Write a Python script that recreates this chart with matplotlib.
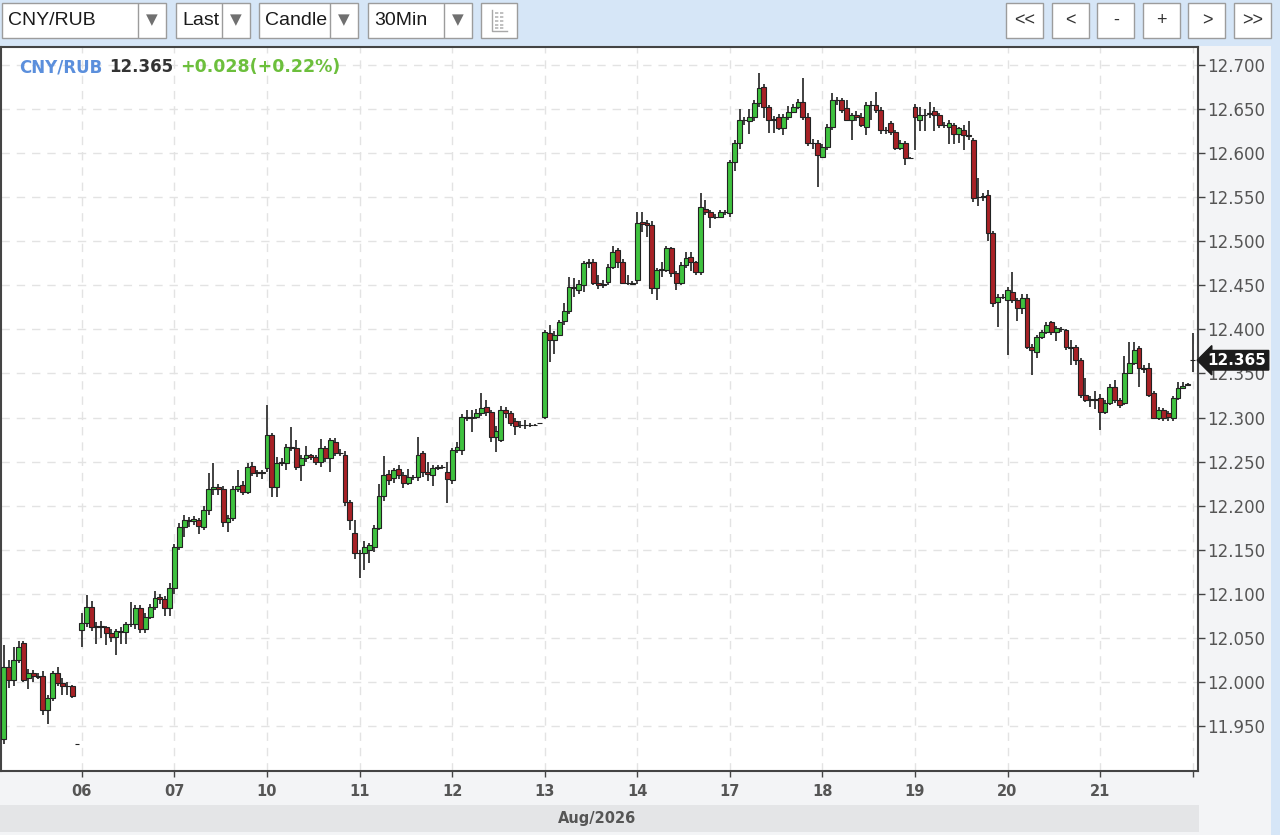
import matplotlib
matplotlib.use("Agg")
import matplotlib.pyplot as plt
import matplotlib.transforms as mtransforms
from matplotlib.patches import Rectangle
from matplotlib.lines import Line2D

# header values
symbol = "CNY/RUB"
last_price = "12.365"
change_text = "+0.028(+0.22%)"
month_label = "Aug/2026"
slots_per_day = 19
y_ticks = [11.95, 12.00, 12.05, 12.10, 12.15, 12.20, 12.25, 12.30, 12.35,
           12.40, 12.45, 12.50, 12.55, 12.60, 12.65, 12.70]

# 30 min candles per day: (open, high, low, close)
aug05 = [
    (11.935, 12.042, 11.930, 12.017), (12.017, 12.025, 11.993, 12.002),
    (12.002, 12.040, 11.995, 12.025), (12.025, 12.047, 12.022, 12.040),
    (12.044, 12.046, 12.000, 12.002), (12.004, 12.015, 11.992, 12.010),
    (12.010, 12.014, 12.000, 12.007), (12.007, 12.010, 12.003, 12.006),
    (12.007, 12.012, 11.962, 11.968), (11.968, 11.985, 11.952, 11.982),
    (11.982, 12.012, 11.978, 12.010), (12.010, 12.017, 11.995, 11.999),
    (11.999, 12.005, 11.985, 11.996), (11.996, 12.000, 11.985, 11.995),
    (11.995, 11.997, 11.982, 11.984), (11.930, 11.930, 11.930, 11.930),
]
aug06 = [
    (12.059, 12.078, 12.040, 12.067), (12.067, 12.099, 12.062, 12.085),
    (12.085, 12.092, 12.058, 12.062), (12.062, 12.068, 12.043, 12.063),
    (12.063, 12.069, 12.050, 12.062), (12.062, 12.063, 12.042, 12.056),
    (12.056, 12.060, 12.045, 12.051), (12.051, 12.060, 12.031, 12.058),
    (12.058, 12.062, 12.043, 12.057), (12.057, 12.068, 12.043, 12.066),
    (12.066, 12.091, 12.062, 12.066), (12.066, 12.087, 12.060, 12.084),
    (12.084, 12.087, 12.055, 12.060), (12.060, 12.078, 12.056, 12.074),
    (12.074, 12.088, 12.072, 12.085), (12.085, 12.103, 12.082, 12.095),
    (12.096, 12.100, 12.088, 12.094), (12.094, 12.097, 12.075, 12.084),
    (12.084, 12.112, 12.075, 12.107),
]
aug07 = [
    (12.107, 12.156, 12.100, 12.153), (12.153, 12.180, 12.150, 12.176),
    (12.176, 12.190, 12.165, 12.184), (12.184, 12.187, 12.176, 12.183),
    (12.183, 12.188, 12.178, 12.185), (12.184, 12.186, 12.168, 12.177),
    (12.176, 12.200, 12.172, 12.195), (12.195, 12.237, 12.190, 12.219),
    (12.219, 12.248, 12.212, 12.221), (12.221, 12.225, 12.212, 12.219),
    (12.219, 12.222, 12.176, 12.181), (12.181, 12.190, 12.170, 12.186),
    (12.186, 12.222, 12.183, 12.219), (12.219, 12.240, 12.215, 12.222),
    (12.224, 12.228, 12.212, 12.216), (12.216, 12.248, 12.213, 12.244),
    (12.245, 12.250, 12.234, 12.237), (12.237, 12.241, 12.232, 12.238),
    (12.238, 12.240, 12.230, 12.237),
]
aug10 = [
    (12.243, 12.314, 12.238, 12.280), (12.280, 12.283, 12.210, 12.221),
    (12.221, 12.255, 12.210, 12.248), (12.248, 12.254, 12.245, 12.250),
    (12.248, 12.270, 12.240, 12.267), (12.267, 12.289, 12.262, 12.266),
    (12.266, 12.275, 12.240, 12.244), (12.246, 12.258, 12.228, 12.254),
    (12.254, 12.268, 12.250, 12.257), (12.257, 12.259, 12.252, 12.255),
    (12.255, 12.257, 12.246, 12.250), (12.250, 12.276, 12.244, 12.266),
    (12.266, 12.268, 12.250, 12.254), (12.254, 12.277, 12.238, 12.275),
    (12.272, 12.277, 12.256, 12.260), (12.260, 12.264, 12.256, 12.260),
    (12.258, 12.262, 12.200, 12.204), (12.204, 12.206, 12.172, 12.184),
    (12.169, 12.184, 12.140, 12.146),
]
aug11 = [
    (12.146, 12.150, 12.118, 12.146), (12.146, 12.160, 12.127, 12.153),
    (12.150, 12.158, 12.135, 12.155), (12.153, 12.178, 12.148, 12.175),
    (12.175, 12.225, 12.172, 12.211), (12.211, 12.256, 12.205, 12.235),
    (12.236, 12.240, 12.224, 12.229), (12.231, 12.243, 12.226, 12.240),
    (12.242, 12.246, 12.230, 12.235), (12.235, 12.238, 12.220, 12.226),
    (12.226, 12.242, 12.224, 12.232), (12.232, 12.235, 12.229, 12.232),
    (12.232, 12.278, 12.228, 12.257), (12.260, 12.262, 12.232, 12.238),
    (12.238, 12.250, 12.228, 12.236), (12.235, 12.246, 12.222, 12.243),
    (12.243, 12.246, 12.240, 12.244), (12.244, 12.246, 12.242, 12.244),
    (12.238, 12.250, 12.203, 12.230),
]
aug12 = [
    (12.229, 12.266, 12.225, 12.263), (12.263, 12.272, 12.260, 12.267),
    (12.263, 12.304, 12.258, 12.301), (12.301, 12.309, 12.296, 12.300),
    (12.300, 12.308, 12.284, 12.301), (12.301, 12.310, 12.298, 12.305),
    (12.305, 12.328, 12.302, 12.311), (12.312, 12.320, 12.302, 12.306),
    (12.306, 12.308, 12.272, 12.278), (12.278, 12.290, 12.261, 12.285),
    (12.275, 12.313, 12.272, 12.309), (12.309, 12.312, 12.300, 12.305),
    (12.305, 12.307, 12.290, 12.294), (12.296, 12.300, 12.280, 12.290),
    (12.292, 12.296, 12.288, 12.292), (12.292, 12.297, 12.287, 12.291),
    (12.291, 12.294, 12.289, 12.292), (12.292, 12.293, 12.290, 12.291),
    (12.294, 12.294, 12.294, 12.294),
]
aug13 = [
    (12.301, 12.399, 12.298, 12.397), (12.396, 12.405, 12.363, 12.388),
    (12.388, 12.398, 12.372, 12.394), (12.394, 12.411, 12.392, 12.408),
    (12.410, 12.430, 12.405, 12.421), (12.421, 12.460, 12.418, 12.448),
    (12.448, 12.458, 12.437, 12.447), (12.445, 12.456, 12.440, 12.452),
    (12.450, 12.478, 12.443, 12.475), (12.475, 12.480, 12.470, 12.476),
    (12.477, 12.480, 12.450, 12.453), (12.453, 12.462, 12.446, 12.450),
    (12.450, 12.456, 12.447, 12.452), (12.454, 12.474, 12.450, 12.471),
    (12.471, 12.495, 12.468, 12.488), (12.490, 12.492, 12.470, 12.477),
    (12.477, 12.480, 12.451, 12.453), (12.453, 12.462, 12.450, 12.453),
    (12.453, 12.455, 12.450, 12.452),
]
aug14 = [
    (12.456, 12.533, 12.452, 12.521), (12.522, 12.533, 12.510, 12.520),
    (12.521, 12.524, 12.505, 12.518), (12.518, 12.523, 12.440, 12.447),
    (12.447, 12.470, 12.433, 12.467), (12.467, 12.476, 12.460, 12.468),
    (12.467, 12.495, 12.465, 12.492), (12.492, 12.494, 12.460, 12.464),
    (12.464, 12.466, 12.445, 12.453), (12.453, 12.476, 12.450, 12.473),
    (12.473, 12.488, 12.470, 12.481), (12.482, 12.488, 12.466, 12.476),
    (12.476, 12.478, 12.462, 12.465), (12.465, 12.555, 12.462, 12.539),
    (12.537, 12.547, 12.530, 12.533), (12.533, 12.536, 12.515, 12.528),
    (12.528, 12.531, 12.525, 12.528), (12.528, 12.535, 12.526, 12.533),
    (12.533, 12.536, 12.530, 12.533),
]
aug17 = [
    (12.532, 12.592, 12.528, 12.590), (12.590, 12.615, 12.580, 12.612),
    (12.612, 12.650, 12.605, 12.638), (12.638, 12.641, 12.632, 12.638),
    (12.636, 12.650, 12.622, 12.641), (12.641, 12.660, 12.636, 12.657),
    (12.657, 12.691, 12.652, 12.674), (12.675, 12.678, 12.640, 12.652),
    (12.652, 12.655, 12.623, 12.638), (12.638, 12.642, 12.623, 12.639),
    (12.641, 12.644, 12.626, 12.629), (12.629, 12.644, 12.620, 12.641),
    (12.641, 12.654, 12.638, 12.647), (12.647, 12.656, 12.645, 12.652),
    (12.652, 12.661, 12.650, 12.658), (12.658, 12.685, 12.638, 12.641),
    (12.641, 12.645, 12.608, 12.612), (12.612, 12.616, 12.605, 12.612),
    (12.612, 12.615, 12.562, 12.598),
]
aug18 = [
    (12.596, 12.610, 12.594, 12.607), (12.607, 12.633, 12.604, 12.630),
    (12.630, 12.668, 12.626, 12.660), (12.660, 12.664, 12.655, 12.660),
    (12.660, 12.663, 12.645, 12.649), (12.651, 12.660, 12.636, 12.638),
    (12.638, 12.646, 12.615, 12.643), (12.643, 12.648, 12.636, 12.641),
    (12.641, 12.645, 12.630, 12.632), (12.630, 12.658, 12.620, 12.655),
    (12.655, 12.659, 12.638, 12.655), (12.655, 12.669, 12.646, 12.649),
    (12.649, 12.652, 12.622, 12.626), (12.626, 12.630, 12.622, 12.626),
    (12.634, 12.637, 12.620, 12.624), (12.624, 12.626, 12.603, 12.606),
    (12.606, 12.615, 12.603, 12.612), (12.612, 12.614, 12.587, 12.595),
    (12.595, 12.596, 12.594, 12.595),
]
aug19 = [
    (12.652, 12.656, 12.604, 12.641), (12.638, 12.652, 12.625, 12.643),
    (12.643, 12.650, 12.625, 12.643), (12.644, 12.658, 12.640, 12.645),
    (12.648, 12.652, 12.625, 12.643), (12.643, 12.645, 12.628, 12.632),
    (12.632, 12.635, 12.628, 12.632), (12.630, 12.638, 12.610, 12.634),
    (12.632, 12.634, 12.610, 12.622), (12.622, 12.630, 12.612, 12.628),
    (12.626, 12.632, 12.604, 12.620), (12.620, 12.636, 12.615, 12.619),
    (12.615, 12.617, 12.545, 12.549), (12.550, 12.572, 12.540, 12.550),
    (12.550, 12.555, 12.546, 12.551), (12.553, 12.558, 12.500, 12.509),
    (12.509, 12.512, 12.425, 12.430), (12.431, 12.440, 12.403, 12.437),
    (12.437, 12.440, 12.434, 12.437),
]
aug20 = [
    (12.433, 12.448, 12.371, 12.445), (12.443, 12.465, 12.430, 12.433),
    (12.433, 12.436, 12.410, 12.424), (12.424, 12.440, 12.418, 12.436),
    (12.436, 12.440, 12.378, 12.380), (12.380, 12.383, 12.348, 12.377),
    (12.374, 12.394, 12.368, 12.391), (12.391, 12.399, 12.389, 12.397),
    (12.397, 12.408, 12.395, 12.405), (12.408, 12.410, 12.394, 12.397),
    (12.397, 12.404, 12.387, 12.402), (12.401, 12.403, 12.397, 12.400),
    (12.399, 12.400, 12.377, 12.380), (12.380, 12.388, 12.360, 12.379),
    (12.380, 12.382, 12.360, 12.365), (12.365, 12.367, 12.322, 12.326),
    (12.326, 12.345, 12.318, 12.320), (12.321, 12.324, 12.312, 12.320),
    (12.320, 12.330, 12.310, 12.321),
]
aug21 = [
    (12.322, 12.327, 12.286, 12.306), (12.306, 12.320, 12.304, 12.317),
    (12.317, 12.338, 12.314, 12.335), (12.335, 12.343, 12.317, 12.320),
    (12.320, 12.322, 12.311, 12.314), (12.317, 12.370, 12.314, 12.351),
    (12.351, 12.386, 12.349, 12.362), (12.362, 12.386, 12.360, 12.377),
    (12.379, 12.381, 12.335, 12.356), (12.356, 12.360, 12.350, 12.355),
    (12.356, 12.362, 12.323, 12.326), (12.328, 12.330, 12.298, 12.300),
    (12.300, 12.312, 12.297, 12.309), (12.309, 12.311, 12.296, 12.300),
    (12.305, 12.307, 12.296, 12.301), (12.300, 12.325, 12.296, 12.322),
    (12.322, 12.340, 12.320, 12.334), (12.334, 12.340, 12.332, 12.336),
    (12.337, 12.339, 12.336, 12.338),
]
aug24 = [(12.365, 12.396, 12.352, 12.365)]

day_labels = ["06", "07", "10", "11", "12", "13", "14", "17", "18", "19", "20", "21", ""]
days = [aug06, aug07, aug10, aug11, aug12, aug13, aug14, aug17, aug18, aug19, aug20, aug21, aug24]

W, H = 1280, 835
GREEN = "#3fc23f"
RED = "#a82126"


def fx(x):
    return x / W


def fy(y):
    return 1 - y / H


# build candle index, day 05 is the partial day before the first tick
xs, opens, highs, lows, closes = [], [], [], [], []
for i, c in enumerate(aug05):
    xs.append(i - len(aug05))
    opens.append(c[0]); highs.append(c[1]); lows.append(c[2]); closes.append(c[3])
day_starts = []
for d, day in enumerate(days):
    start = d * slots_per_day
    day_starts.append(start)
    for i, c in enumerate(day):
        xs.append(start + i)
        opens.append(c[0]); highs.append(c[1]); lows.append(c[2]); closes.append(c[3])

fig = plt.figure(figsize=(12.8, 8.35), dpi=100)
fig.patch.set_facecolor("#f3f4f6")

ax = fig.add_axes([fx(1), fy(771), fx(1198) - fx(1), (771 - 47) / H])
ax.set_facecolor("white")
ax.set_zorder(2)

# wicks and bodies
ax.vlines(xs, lows, highs, color="#333333", lw=1.3, zorder=2)
bottoms = [min(o, c) for o, c in zip(opens, closes)]
heights = [abs(c - o) for o, c in zip(opens, closes)]
fills = [GREEN if c >= o else RED for o, c in zip(opens, closes)]
ax.bar(xs, heights, bottom=bottoms, width=1.0, color=fills,
       edgecolor="#222222", linewidth=0.8, zorder=3)

ax.set_xlim(-16.6, 229.1)
ax.set_ylim(11.899, 12.7204)

ax.set_yticks(y_ticks)
ax.set_yticklabels([f"{v:.3f}" for v in y_ticks])
ax.yaxis.tick_right()
ax.set_xticks(day_starts)
ax.set_xticklabels(day_labels)

ax.tick_params(axis="y", which="both", length=5, width=1, color="#444444",
               labelsize=12, labelcolor="#555555", pad=1.5)
ax.tick_params(axis="x", length=4, width=1, color="#444444",
               labelsize=10.5, labelcolor="#555555", pad=5)
for lab in ax.get_xticklabels():
    lab.set_fontweight("bold")

ax.grid(True, color="#e3e3e3", linestyle=(0, (6, 5)), linewidth=1)
ax.set_axisbelow(True)
for s in ax.spines.values():
    s.set_color("#444444")
    s.set_linewidth(1.5)

# header in the chart
t1 = ax.text(0.015, 0.972, symbol, transform=ax.transAxes, color="#5b8fdc",
             fontsize=12, fontweight="bold", va="center", ha="left")
t2 = ax.annotate(last_price, xy=(1, 0.5), xycoords=t1, xytext=(5, 0),
                 textcoords="offset points", va="center", ha="left",
                 color="#333333", fontsize=12, fontweight="bold")
ax.annotate(change_text, xy=(1, 0.5), xycoords=t2, xytext=(5, 0),
            textcoords="offset points", va="center", ha="left",
            color="#6cbf3c", fontsize=12.5, fontweight="bold")

# last price marker on the axis
blend = mtransforms.blended_transform_factory(ax.transAxes, ax.transData)
ax.text(1.008, closes[-1], last_price, transform=blend, color="white",
        fontsize=11, fontweight="bold", va="center", ha="left", clip_on=False,
        zorder=5, bbox=dict(boxstyle="larrow,pad=0.15", fc="#1c1c1c", ec="#1c1c1c"))

# toolbar and bottom bands
fig.patches.append(Rectangle((0, fy(46)), 1, 46 / H, transform=fig.transFigure,
                             fc="#d6e6f7", ec="none", zorder=0))
fig.patches.append(Rectangle((fx(1271), 0), fx(9), 1, transform=fig.transFigure,
                             fc="#d6e6f7", ec="none", zorder=0))
fig.patches.append(Rectangle((0, fy(832)), fx(1199), 27 / H, transform=fig.transFigure,
                             fc="#e4e5e7", ec="none", zorder=0))
fig.text(fx(597), fy(818), month_label, ha="center", va="center",
         fontsize=10.5, fontweight="bold", color="#555555")


def box(x0, x1, y0=3, y1=38):
    fig.patches.append(Rectangle((fx(x0), fy(y1)), fx(x1) - fx(x0), (y1 - y0) / H,
                                 transform=fig.transFigure, fc="white",
                                 ec="#9c9c9c", lw=1, zorder=1))


dropdowns = [("CNY/RUB", 2, 166, 138), ("Last", 176, 250, 222),
             ("Candle", 259, 358, 330), ("30Min", 368, 472, 444)]
for label, x0, x1, xd in dropdowns:
    box(x0, x1)
    fig.add_artist(Line2D([fx(xd), fx(xd)], [fy(4), fy(37)], color="#9c9c9c", lw=1))
    fig.text(fx(x0 + 6), fy(20.5), label, ha="left", va="center", fontsize=14,
             family="Liberation Sans", color="#1a1a1a")
    fig.text(fx((xd + x1) / 2), fy(20), "\u25bc", ha="center", va="center",
             fontsize=11, color="#707070")

# chart type icon button
box(481, 517)
fig.add_artist(Line2D([fx(492), fx(492), fx(507)], [fy(10), fy(31), fy(31)],
                      color="#a8a8a8", lw=1))
for yy in (13, 17, 21, 25, 28):
    fig.add_artist(Line2D([fx(495), fx(505)], [fy(yy), fy(yy)], color="#b5b5b5", lw=1.2,
                          linestyle=(0, (2, 1))))

nav_buttons = ["<<", "<", "-", "+", ">", ">>"]
for k, label in enumerate(nav_buttons):
    x0 = 1006 + k * 45.6
    box(x0, x0 + 37)
    fig.text(fx(x0 + 18.5), fy(20.5), label, ha="center", va="center", fontsize=13,
             family="Liberation Sans", color="#333333")

fig.savefig("out.png", dpi=100)
